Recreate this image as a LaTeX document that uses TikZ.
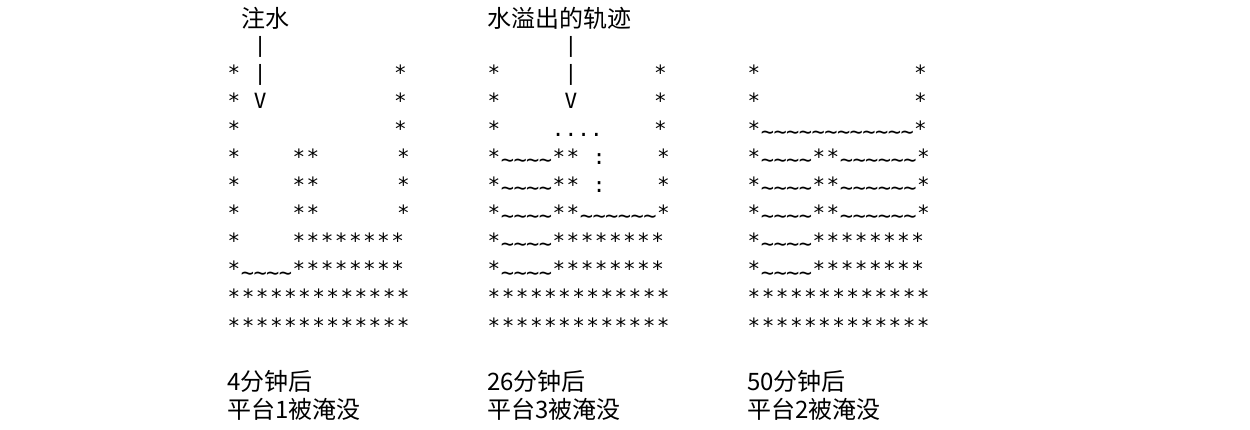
\documentclass[tikz,border=0pt]{standalone}
\usepackage{fontspec}
\newfontfamily\cjkf{Noto Sans CJK SC}
\newfontfamily\monof{DejaVu Sans Mono}
\tikzset{ch/.style={inner sep=0pt,anchor=base,font=\monof\fontsize{21}{21}\selectfont},
 tl/.style={inner sep=0pt,anchor=base,font=\monof\fontsize{22}{22}\selectfont},
 captxt/.style={inner sep=0pt,anchor=west,font=\cjkf\fontsize{24}{24}\selectfont}}
\def\ascloop#1{\ifx#1\relax\else\ascchar{#1}\expandafter\ascloop\fi}
\def\ascchar#1{%
 \def\w{12.7}\if*#1\def\w{14.1}\fi\if y#1\def\w{14.1}\fi
 \pgfmathsetmacro\cx{\curx+\w/2}%
 \if x#1\else\if y#1\else
  \if t#1\node[tl] at (\cx,\cury+3) {\char`\~};\else\node[ch] at (\cx,\cury) {#1};\fi
 \fi\fi
 \pgfmathsetmacro\curx{\curx+\w}}
\newcommand\ascrow[3]{\def\curx{#1}\pgfmathsetmacro\cury{72+28*#2+9}\ascloop#3\relax}
\begin{document}
\begin{tikzpicture}[x=1pt,y=-1pt]
\useasboundingbox (0,0) rectangle (1250,430);
% panel 1
\def\xa{227}
\ascrow{\xa}{-1}{yx|}
\ascrow{\xa}{0}{*x|xxxxxxxxxx*}
\ascrow{\xa}{1}{*xVxxxxxxxxxx*}
\ascrow{\xa}{2}{*xxxxxxxxxxxx*}
\ascrow{\xa}{3}{*xxxx**xxxxxx*}
\ascrow{\xa}{4}{*xxxx**xxxxxx*}
\ascrow{\xa}{5}{*xxxx**xxxxxx*}
\ascrow{\xa}{6}{*xxxx********}
\ascrow{\xa}{7}{*tttt********}
\ascrow{\xa}{8}{*************}
\ascrow{\xa}{9}{*************}
% panel 2
\def\xb{487}
\ascrow{\xb}{-1}{yxxxxx|}
\ascrow{\xb}{0}{*xxxxx|xxxxxx*}
\ascrow{\xb}{1}{*xxxxxVxxxxxx*}
\ascrow{\xb}{2}{*xxxx....xxxx*}
\ascrow{\xb}{3}{*tttt**x:xxxx*}
\ascrow{\xb}{4}{*tttt**x:xxxx*}
\ascrow{\xb}{5}{*tttt**tttttt*}
\ascrow{\xb}{6}{*tttt********}
\ascrow{\xb}{7}{*tttt********}
\ascrow{\xb}{8}{*************}
\ascrow{\xb}{9}{*************}
% panel 3
\def\xc{747}
\ascrow{\xc}{0}{*xxxxxxxxxxxx*}
\ascrow{\xc}{1}{*xxxxxxxxxxxx*}
\ascrow{\xc}{2}{*tttttttttttt*}
\ascrow{\xc}{3}{*tttt**tttttt*}
\ascrow{\xc}{4}{*tttt**tttttt*}
\ascrow{\xc}{5}{*tttt**tttttt*}
\ascrow{\xc}{6}{*tttt********}
\ascrow{\xc}{7}{*tttt********}
\ascrow{\xc}{8}{*************}
\ascrow{\xc}{9}{*************}
% texts
\node[captxt] (t1) at (241,18) {注水};
\node[captxt] (t2) at (487,18) {水溢出的轨迹};
\node[captxt] (c1a) at (227,381) {4分钟后};
\node[captxt] (c1b) at (227,409) {平台1被淹没};
\node[captxt] (c2a) at (487,381) {26分钟后};
\node[captxt] (c2b) at (487,409) {平台3被淹没};
\node[captxt] (c3a) at (747,381) {50分钟后};
\node[captxt] (c3b) at (747,409) {平台2被淹没};
\end{tikzpicture}
\end{document}
